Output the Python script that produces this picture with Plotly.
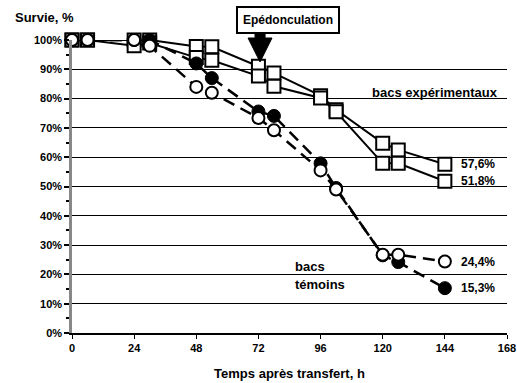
import plotly.graph_objects as go

# Time points (h)
hours = [0, 6, 24, 30, 48, 54, 72, 78, 96, 102, 120, 126, 144]

# Experimental tanks (open squares)
exp_a = [100, 100, 100, 100, 97.8, 97.7, 91.0, 88.7, 81.0, 76.2, 64.8, 62.5, 57.6]
exp_b = [100, 100, 98.0, 99.0, 94.0, 93.1, 87.7, 84.2, 80.2, 75.5, 57.9, 57.9, 51.8]

# Control tanks (circles)
ctrl_filled = [100, 100, 100, 100, 92.0, 87.0, 75.6, 74.1, 57.9, 49.5, 26.5, 24.2, 15.3]
ctrl_open = [100, 100, 100, 98.0, 84.0, 82.0, 73.4, 69.2, 55.5, 49.0, 26.7, 26.7, 24.4]

end_labels = ["57,6%", "51,8%", "15,3%", "24,4%"]
end_values = [exp_a[-1], exp_b[-1], ctrl_filled[-1], ctrl_open[-1]]

x_ticks = [0, 24, 48, 72, 96, 120, 144, 168]
y_ticks = [0, 10, 20, 30, 40, 50, 60, 70, 80, 90, 100]

FONT = "Liberation Sans, Arial, sans-serif"

fig = go.Figure()

for ys in (exp_a, exp_b):
    fig.add_trace(go.Scatter(
        x=hours, y=ys, mode="lines+markers",
        line=dict(color="black", width=2),
        marker=dict(symbol="square", size=13, color="white",
                    line=dict(color="black", width=2)),
        cliponaxis=False, hoverinfo="skip"))

fig.add_trace(go.Scatter(
    x=hours, y=ctrl_filled, mode="lines+markers",
    line=dict(color="black", width=2.5, dash="12px,7px"),
    marker=dict(symbol="circle", size=13, color="black",
                line=dict(color="black", width=1)),
    cliponaxis=False, hoverinfo="skip"))

fig.add_trace(go.Scatter(
    x=hours, y=ctrl_open, mode="lines+markers",
    line=dict(color="black", width=2.5, dash="12px,7px"),
    marker=dict(symbol="circle", size=12, color="white",
                line=dict(color="black", width=2)),
    cliponaxis=False, hoverinfo="skip"))

annotations = []
for lab, v in zip(end_labels, end_values):
    annotations.append(dict(x=149.5, y=v, xref="x", yref="y", text=f"<b>{lab}</b>",
                            showarrow=False, xanchor="left", yanchor="middle",
                            font=dict(family=FONT, size=12, color="black")))

annotations += [
    dict(x=115, y=82, xref="x", yref="y", text="<b>bacs expérimentaux</b>",
         showarrow=False, xanchor="left", yanchor="middle",
         font=dict(family=FONT, size=13, color="black")),
    dict(x=85.3, y=22.6, xref="x", yref="y", text="<b>bacs</b>",
         showarrow=False, xanchor="left", yanchor="middle",
         font=dict(family=FONT, size=13, color="black")),
    dict(x=85.3, y=16.5, xref="x", yref="y", text="<b>témoins</b>",
         showarrow=False, xanchor="left", yanchor="middle",
         font=dict(family=FONT, size=13, color="black")),
    dict(x=-0.135, y=1.078, xref="paper", yref="paper", text="<b>Survie, %</b>",
         showarrow=False, xanchor="left", yanchor="middle",
         font=dict(family=FONT, size=13, color="black")),
    dict(x=0.497, y=1.068, xref="paper", yref="paper", text="<b>Epédonculation</b>",
         showarrow=False, xanchor="center", yanchor="middle",
         bordercolor="black", borderwidth=2, borderpad=5, bgcolor="white",
         font=dict(family=FONT, size=12, color="black")),
]

# Block arrow (paper coordinates)
arrow_path = ("M 0.4208 1.0239 L 0.4438 1.0239 L 0.4438 1.0068 L 0.4598 1.0068 "
              "L 0.4323 0.925 L 0.4047 1.0068 L 0.4208 1.0068 Z")
shapes = [dict(type="path", path=arrow_path, xref="paper", yref="paper",
               fillcolor="black", line=dict(color="black", width=1), layer="above")]

fig.update_layout(
    width=517, height=383,
    margin=dict(l=72, r=10, t=40, b=50),
    paper_bgcolor="white", plot_bgcolor="white",
    showlegend=False,
    hovermode=False,
    annotations=annotations,
    shapes=shapes,
    font=dict(family=FONT, color="black"),
    xaxis=dict(
        range=[0, 168], tickvals=x_ticks, ticktext=[f"<b>{t}</b>" for t in x_ticks],
        showgrid=False, zeroline=False, automargin=False,
        showline=True, linecolor="black", linewidth=1.5,
        ticks="outside", ticklen=4, tickcolor="black", tickwidth=1,
        tickfont=dict(family=FONT, size=11, color="black"),
        title=dict(text="<b>Temps après transfert, h</b>", standoff=16,
                   font=dict(family=FONT, size=13, color="black")),
    ),
    yaxis=dict(
        range=[0, 100], tickvals=y_ticks, ticktext=[f"<b>{t}%</b>" for t in y_ticks],
        showgrid=True, gridcolor="black", gridwidth=1,
        zeroline=False, automargin=False,
        showline=True, linecolor="#888888", linewidth=2.5,
        ticks="outside", ticklen=5, tickcolor="black", tickwidth=1.5,
        minor=dict(dtick=5, ticks="outside", ticklen=3, tickcolor="black", showgrid=False),
        tickfont=dict(family=FONT, size=11, color="black"),
    ),
)

fig.write_html("out.html")
